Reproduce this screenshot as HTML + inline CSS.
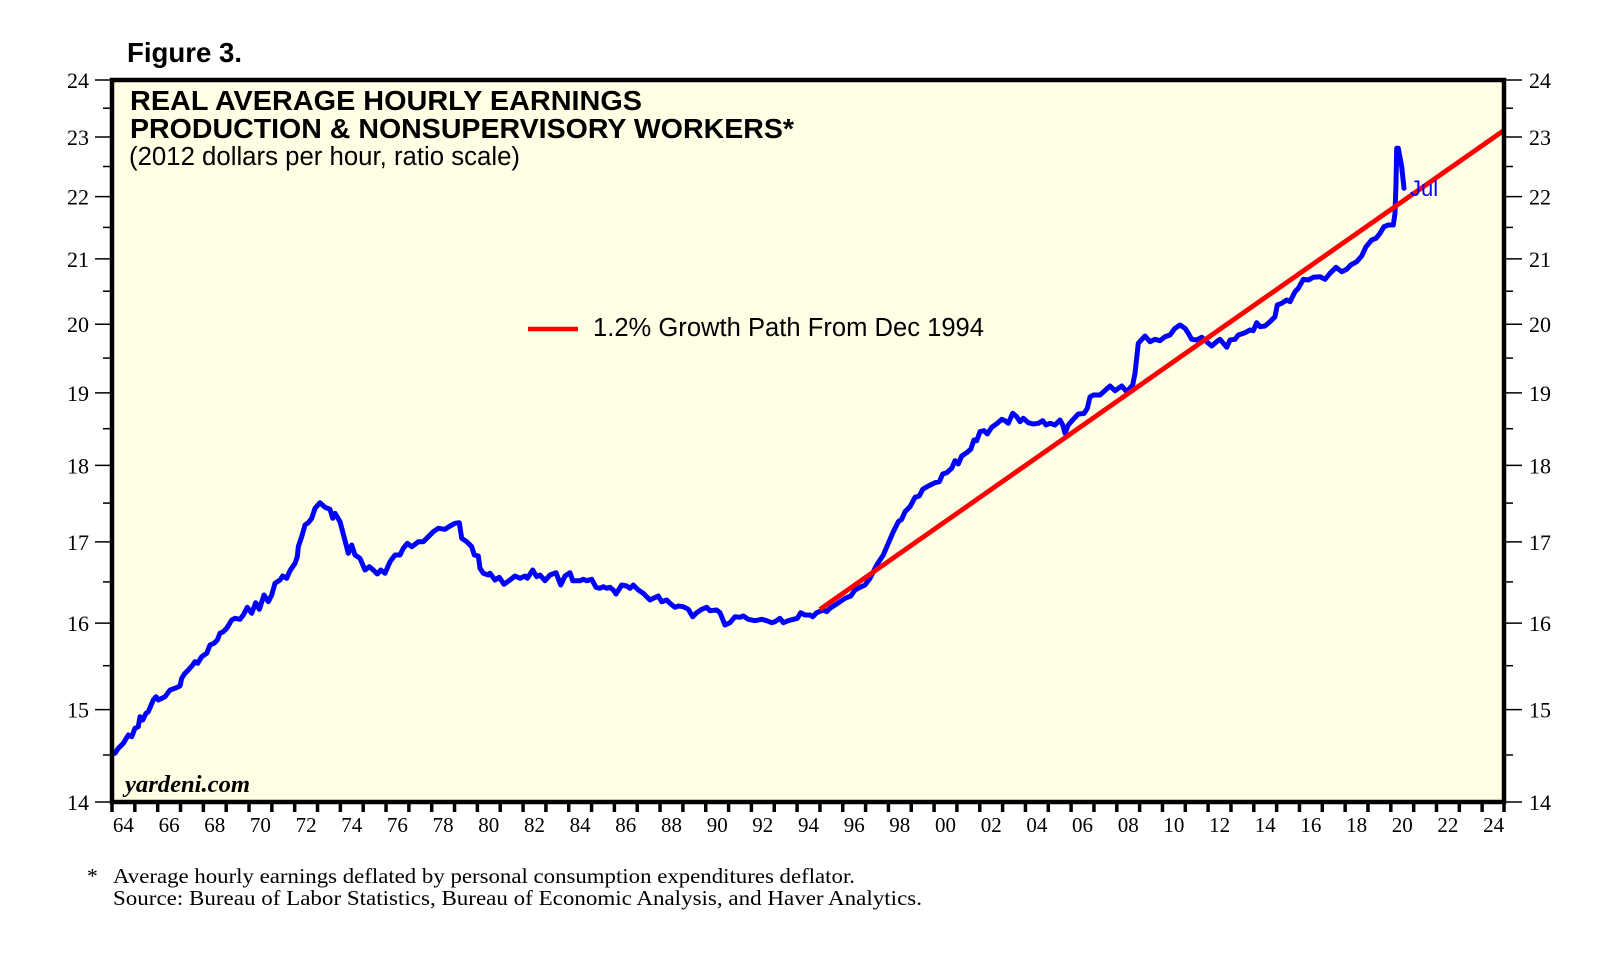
<!DOCTYPE html>
<html>
<head>
<meta charset="utf-8">
<style>
html,body{margin:0;padding:0;background:#ffffff;}
svg{display:block;}
.sans{font-family:"Liberation Sans",Arial,sans-serif;}
.serif{font-family:"Liberation Serif","Times New Roman",serif;}
</style>
</head>
<body>
<svg width="1610" height="958" viewBox="0 0 1610 958" xmlns="http://www.w3.org/2000/svg">
  <rect x="0" y="0" width="1610" height="958" fill="#ffffff"/>
  <!-- Figure label -->
  <text x="127" y="62" class="sans" font-size="28" font-weight="bold" textLength="115" lengthAdjust="spacingAndGlyphs">Figure 3.</text>

  <!-- plot background -->
  <rect x="112" y="80" width="1392" height="722" fill="#FFFFE6"/>

  <!-- titles -->
  <text x="130" y="110" class="sans" font-size="28" font-weight="bold" textLength="512" lengthAdjust="spacingAndGlyphs">REAL AVERAGE HOURLY EARNINGS</text>
  <text x="130" y="138" class="sans" font-size="28" font-weight="bold" textLength="664" lengthAdjust="spacingAndGlyphs">PRODUCTION &amp; NONSUPERVISORY WORKERS*</text>
  <text x="129" y="165" class="sans" font-size="25.5" textLength="391" lengthAdjust="spacingAndGlyphs">(2012 dollars per hour, ratio scale)</text>

  <!-- legend -->
  <line x1="528" y1="329" x2="578" y2="329" stroke="#FF0000" stroke-width="4.5"/>
  <text x="593" y="336" class="sans" font-size="25.5" textLength="391" lengthAdjust="spacingAndGlyphs">1.2% Growth Path From Dec 1994</text>

  <!-- watermark -->
  <text x="125" y="792" class="serif" font-size="24" font-weight="bold" font-style="italic" textLength="125" lengthAdjust="spacingAndGlyphs">yardeni.com</text>

  <!-- blue series -->
  <polyline fill="none" stroke="#0000FF" stroke-width="5" stroke-linejoin="round" stroke-linecap="round"
   points="115,753.3 118.3,748.3 123.3,743.3 128.3,735 131.7,736.7 135,728.3 138.3,726.7 140,716.7 142.7,720 146,713.3 148.3,711.7 153.3,700 156,696.7 158.3,700 165,696.7 170,690 175,688.3 180,686 181.7,678.3 185,673.3 188.3,670 192.7,665 195,661.7 197.7,663.3 201.7,656.7 206.7,653.3 210,645 214,643.3 217.3,640 220,633.3 223.3,631.7 226.7,628.3 231.7,620 235,618.3 240,619.3 243.3,615 247.3,607.3 251.7,613.3 255.7,602.7 259.3,609.3 264,595 268.3,601.7 271.7,595 275,583.3 280,580 282.7,576 286.7,578.3 290,570.7 295,563.3 297.3,556.7 298.3,546.7 301.7,536.7 305,525 308.3,522.7 311.7,518.3 315,508.3 320,502.7 325,507.3 330,509.3 332.7,518.3 335,513.3 340,521.7 344,536.7 348.3,553.3 351.7,545 355,555 360,558.3 365,570 369.3,566.7 373.3,570 377.3,574 380.7,570 385,573.3 390,561.7 395,555 400,555 403.3,548.3 407.3,543.3 411.7,546.7 418.3,541.7 423.3,541.7 428.3,536.7 433.3,531.7 438.3,528.3 445,529.3 450,526 455,523.3 459.3,522.7 461.7,538.3 466.7,541.7 471.7,546.7 474.3,555 478.3,556 480,568.3 483.3,573.3 488.3,575 490,573.3 495,580 499.3,577.3 504,584.3 510,580 515,576 520,578.3 525,576 527.3,578.3 532.7,570 536.7,576.7 540,575 545,580.7 550,575 556,572.7 560.7,585 565,576 570,572.7 572.7,580.7 580,580.7 583.3,579.3 586.7,580.7 591.7,579.3 596,587.3 600,588.3 603.3,586.7 606.7,588.3 610,587.3 613.3,590 616,594 621.7,585 626.7,586 630,588.3 633.3,585 638.3,590 643.3,593.3 650,600 653.3,598.3 658.3,596 661.7,601.7 666.7,600 670,603.3 675,607.3 678.3,606 683.3,606.7 688.3,609.3 692.7,616.7 696.7,612.7 701.7,609.3 706.7,607.3 710,610.7 716.7,610 720,612.7 725,625 730,622.7 735,616.7 740,617.3 743.3,616 748.3,619.3 755,620.7 761.7,619.3 766.7,620.7 771.7,622.7 775,621.7 780,618.3 783.3,622.7 788.3,620.7 793.3,619.3 797.3,618.3 800.7,612.7 805,615 810,615 812.7,616.7 816.7,612.7 823.3,610 826.7,611.7 830,608.3 835,605 840,601.7 845,598.3 850.7,596 855,590 860,587.3 865,585 870,578.3 873.3,571.7 876.7,565 880,560 883.3,555 888.3,543.3 893.3,531.7 898.3,521.7 901.7,519.3 905,511.7 910,506.7 915,497.3 919.3,496 922.7,489.3 928.3,486 935,482.7 939.3,481.7 942.7,474 946.7,472.7 951.7,468.3 955,460.7 958.3,464 961.7,456 966.7,452.7 970.7,449.3 974,440 976.7,440.7 980,431.7 984,430.7 987.3,434 991.7,427.3 997.3,423.3 1001.7,419.3 1005,420.7 1008.3,423.3 1012.7,413.3 1016.7,416.7 1020,421.7 1023.3,418.3 1028.3,422.7 1033.3,424 1038.3,423.3 1042.7,420.7 1046,425 1050,423.3 1055,425 1060,420 1062.7,425 1065,433.3 1068.3,425 1073.3,419.3 1078.3,414 1084,413.5 1087.3,408.3 1090,397 1093.3,395 1100,395 1105,390.5 1110,386 1115,390.7 1121.7,386 1126.7,391.7 1132.7,385 1135,373.3 1138.3,343.3 1145,336 1150,341.7 1155,339.3 1160,340.7 1165,336.7 1170,335 1175,328.3 1180,325 1185,328.3 1188.3,333.3 1191.7,339.3 1196.7,340 1201.7,337.3 1206.7,341.7 1211.7,346 1216.7,341.7 1220,339.3 1223.3,343.3 1226.7,347.3 1230,340 1235,339.3 1238.3,335 1245,332.7 1250,330 1253.3,330.7 1256.7,322.7 1260,326.7 1265,326 1270,321.7 1275,316.7 1277.3,305 1281.7,303.3 1286.7,300 1290,301.7 1295,291.7 1298.3,288.3 1303.3,279.3 1308.3,280 1313.3,277.3 1320,276.7 1325,279.3 1330,273.3 1336,267.3 1341.7,271.7 1346.7,269.3 1350.7,265 1356.7,261.7 1361.7,256 1366,246.7 1371.7,240 1376,238.3 1380,233.3 1384,226.7 1388.3,225 1393.3,225 1395,213.3 1396,183.3 1396.7,148.3 1398.3,148.3 1401.7,166.7 1404,188.3"/>

  <!-- red growth path -->
  <line x1="820" y1="609.3" x2="1503" y2="131" stroke="#FF0000" stroke-width="4.8"/>

  <!-- Jul label -->
  <text x="1410" y="196" class="sans" font-size="22" fill="#0000FF">Jul</text>

  <!-- plot frame -->
  <rect x="112" y="80" width="1392" height="722" fill="none" stroke="#000000" stroke-width="4.5"/>

  <!-- y ticks left/right -->
  <g stroke="#000000" stroke-width="1.5">
    <line x1="95" y1="802" x2="112" y2="802"/><line x1="1504" y1="802" x2="1522" y2="802"/>
    <line x1="95" y1="709.6" x2="112" y2="709.6"/><line x1="1504" y1="709.6" x2="1522" y2="709.6"/>
    <line x1="95" y1="623.1" x2="112" y2="623.1"/><line x1="1504" y1="623.1" x2="1522" y2="623.1"/>
    <line x1="95" y1="541.9" x2="112" y2="541.9"/><line x1="1504" y1="541.9" x2="1522" y2="541.9"/>
    <line x1="95" y1="465.4" x2="112" y2="465.4"/><line x1="1504" y1="465.4" x2="1522" y2="465.4"/>
    <line x1="95" y1="392.9" x2="112" y2="392.9"/><line x1="1504" y1="392.9" x2="1522" y2="392.9"/>
    <line x1="95" y1="324.2" x2="112" y2="324.2"/><line x1="1504" y1="324.2" x2="1522" y2="324.2"/>
    <line x1="95" y1="258.9" x2="112" y2="258.9"/><line x1="1504" y1="258.9" x2="1522" y2="258.9"/>
    <line x1="95" y1="196.6" x2="112" y2="196.6"/><line x1="1504" y1="196.6" x2="1522" y2="196.6"/>
    <line x1="95" y1="137" x2="112" y2="137"/><line x1="1504" y1="137" x2="1522" y2="137"/>
    <line x1="95" y1="80" x2="112" y2="80"/><line x1="1504" y1="80" x2="1522" y2="80"/>
    <line x1="103" y1="755" x2="112" y2="755"/><line x1="1504" y1="755" x2="1513" y2="755"/>
    <line x1="103" y1="665.7" x2="112" y2="665.7"/><line x1="1504" y1="665.7" x2="1513" y2="665.7"/>
    <line x1="103" y1="581.9" x2="112" y2="581.9"/><line x1="1504" y1="581.9" x2="1513" y2="581.9"/>
    <line x1="103" y1="503.1" x2="112" y2="503.1"/><line x1="1504" y1="503.1" x2="1513" y2="503.1"/>
    <line x1="103" y1="428.7" x2="112" y2="428.7"/><line x1="1504" y1="428.7" x2="1513" y2="428.7"/>
    <line x1="103" y1="358.1" x2="112" y2="358.1"/><line x1="1504" y1="358.1" x2="1513" y2="358.1"/>
    <line x1="103" y1="291.2" x2="112" y2="291.2"/><line x1="1504" y1="291.2" x2="1513" y2="291.2"/>
    <line x1="103" y1="227.4" x2="112" y2="227.4"/><line x1="1504" y1="227.4" x2="1513" y2="227.4"/>
    <line x1="103" y1="166.5" x2="112" y2="166.5"/><line x1="1504" y1="166.5" x2="1513" y2="166.5"/>
    <line x1="103" y1="108.2" x2="112" y2="108.2"/><line x1="1504" y1="108.2" x2="1513" y2="108.2"/>
  </g>

  <!-- y labels left -->
  <g class="serif" font-size="22" text-anchor="end" fill="#000">
    <text x="89" y="810">14</text>
    <text x="89" y="717.6">15</text>
    <text x="89" y="631.1">16</text>
    <text x="89" y="549.9">17</text>
    <text x="89" y="473.4">18</text>
    <text x="89" y="400.9">19</text>
    <text x="89" y="332.2">20</text>
    <text x="89" y="266.9">21</text>
    <text x="89" y="204.6">22</text>
    <text x="89" y="145">23</text>
    <text x="89" y="88">24</text>
  </g>
  <!-- y labels right -->
  <g class="serif" font-size="22" text-anchor="start" fill="#000">
    <text x="1529" y="810">14</text>
    <text x="1529" y="717.6">15</text>
    <text x="1529" y="631.1">16</text>
    <text x="1529" y="549.9">17</text>
    <text x="1529" y="473.4">18</text>
    <text x="1529" y="400.9">19</text>
    <text x="1529" y="332.2">20</text>
    <text x="1529" y="266.9">21</text>
    <text x="1529" y="204.6">22</text>
    <text x="1529" y="145">23</text>
    <text x="1529" y="88">24</text>
  </g>

  <!-- x ticks (every year) -->
  <g stroke="#000000" stroke-width="3.5">
    <line x1="112" y1="802" x2="112" y2="812"/>
    <line x1="134.84" y1="802" x2="134.84" y2="812"/>
    <line x1="157.67" y1="802" x2="157.67" y2="812"/>
    <line x1="180.51" y1="802" x2="180.51" y2="812"/>
    <line x1="203.34" y1="802" x2="203.34" y2="812"/>
    <line x1="226.18" y1="802" x2="226.18" y2="812"/>
    <line x1="249.02" y1="802" x2="249.02" y2="812"/>
    <line x1="271.85" y1="802" x2="271.85" y2="812"/>
    <line x1="294.69" y1="802" x2="294.69" y2="812"/>
    <line x1="317.52" y1="802" x2="317.52" y2="812"/>
    <line x1="340.36" y1="802" x2="340.36" y2="812"/>
    <line x1="363.2" y1="802" x2="363.2" y2="812"/>
    <line x1="386.03" y1="802" x2="386.03" y2="812"/>
    <line x1="408.87" y1="802" x2="408.87" y2="812"/>
    <line x1="431.7" y1="802" x2="431.7" y2="812"/>
    <line x1="454.54" y1="802" x2="454.54" y2="812"/>
    <line x1="477.38" y1="802" x2="477.38" y2="812"/>
    <line x1="500.21" y1="802" x2="500.21" y2="812"/>
    <line x1="523.05" y1="802" x2="523.05" y2="812"/>
    <line x1="545.89" y1="802" x2="545.89" y2="812"/>
    <line x1="568.72" y1="802" x2="568.72" y2="812"/>
    <line x1="591.56" y1="802" x2="591.56" y2="812"/>
    <line x1="614.39" y1="802" x2="614.39" y2="812"/>
    <line x1="637.23" y1="802" x2="637.23" y2="812"/>
    <line x1="660.07" y1="802" x2="660.07" y2="812"/>
    <line x1="682.9" y1="802" x2="682.9" y2="812"/>
    <line x1="705.74" y1="802" x2="705.74" y2="812"/>
    <line x1="728.57" y1="802" x2="728.57" y2="812"/>
    <line x1="751.41" y1="802" x2="751.41" y2="812"/>
    <line x1="774.25" y1="802" x2="774.25" y2="812"/>
    <line x1="797.08" y1="802" x2="797.08" y2="812"/>
    <line x1="819.92" y1="802" x2="819.92" y2="812"/>
    <line x1="842.75" y1="802" x2="842.75" y2="812"/>
    <line x1="865.59" y1="802" x2="865.59" y2="812"/>
    <line x1="888.43" y1="802" x2="888.43" y2="812"/>
    <line x1="911.26" y1="802" x2="911.26" y2="812"/>
    <line x1="934.1" y1="802" x2="934.1" y2="812"/>
    <line x1="956.93" y1="802" x2="956.93" y2="812"/>
    <line x1="979.77" y1="802" x2="979.77" y2="812"/>
    <line x1="1002.61" y1="802" x2="1002.61" y2="812"/>
    <line x1="1025.44" y1="802" x2="1025.44" y2="812"/>
    <line x1="1048.28" y1="802" x2="1048.28" y2="812"/>
    <line x1="1071.11" y1="802" x2="1071.11" y2="812"/>
    <line x1="1093.95" y1="802" x2="1093.95" y2="812"/>
    <line x1="1116.79" y1="802" x2="1116.79" y2="812"/>
    <line x1="1139.62" y1="802" x2="1139.62" y2="812"/>
    <line x1="1162.46" y1="802" x2="1162.46" y2="812"/>
    <line x1="1185.3" y1="802" x2="1185.3" y2="812"/>
    <line x1="1208.13" y1="802" x2="1208.13" y2="812"/>
    <line x1="1230.97" y1="802" x2="1230.97" y2="812"/>
    <line x1="1253.8" y1="802" x2="1253.8" y2="812"/>
    <line x1="1276.64" y1="802" x2="1276.64" y2="812"/>
    <line x1="1299.48" y1="802" x2="1299.48" y2="812"/>
    <line x1="1322.31" y1="802" x2="1322.31" y2="812"/>
    <line x1="1345.15" y1="802" x2="1345.15" y2="812"/>
    <line x1="1367.98" y1="802" x2="1367.98" y2="812"/>
    <line x1="1390.82" y1="802" x2="1390.82" y2="812"/>
    <line x1="1413.66" y1="802" x2="1413.66" y2="812"/>
    <line x1="1436.49" y1="802" x2="1436.49" y2="812"/>
    <line x1="1459.33" y1="802" x2="1459.33" y2="812"/>
    <line x1="1482.16" y1="802" x2="1482.16" y2="812"/>
    <line x1="1504" y1="802" x2="1504" y2="812"/>
  </g>

  <!-- x labels -->
  <g class="serif" font-size="21" text-anchor="middle" fill="#000">
    <text x="123.4" y="832">64</text>
    <text x="169.1" y="832">66</text>
    <text x="214.8" y="832">68</text>
    <text x="260.4" y="832">70</text>
    <text x="306.1" y="832">72</text>
    <text x="351.8" y="832">74</text>
    <text x="397.4" y="832">76</text>
    <text x="443.1" y="832">78</text>
    <text x="488.8" y="832">80</text>
    <text x="534.5" y="832">82</text>
    <text x="580.1" y="832">84</text>
    <text x="625.8" y="832">86</text>
    <text x="671.5" y="832">88</text>
    <text x="717.2" y="832">90</text>
    <text x="762.8" y="832">92</text>
    <text x="808.5" y="832">94</text>
    <text x="854.2" y="832">96</text>
    <text x="899.8" y="832">98</text>
    <text x="945.5" y="832">00</text>
    <text x="991.2" y="832">02</text>
    <text x="1036.9" y="832">04</text>
    <text x="1082.5" y="832">06</text>
    <text x="1128.2" y="832">08</text>
    <text x="1173.9" y="832">10</text>
    <text x="1219.6" y="832">12</text>
    <text x="1265.2" y="832">14</text>
    <text x="1310.9" y="832">16</text>
    <text x="1356.6" y="832">18</text>
    <text x="1402.2" y="832">20</text>
    <text x="1447.9" y="832">22</text>
    <text x="1493.6" y="832">24</text>
  </g>

  <!-- footnotes -->
  <text x="87" y="883" class="serif" font-size="21.5">*</text>
  <text x="113" y="883" class="serif" font-size="21.5" textLength="742" lengthAdjust="spacingAndGlyphs">Average hourly earnings deflated by personal consumption expenditures deflator.</text>
  <text x="113" y="905" class="serif" font-size="21.5" textLength="809" lengthAdjust="spacingAndGlyphs">Source: Bureau of Labor Statistics, Bureau of Economic Analysis, and Haver Analytics.</text>
</svg>
</body>
</html>
